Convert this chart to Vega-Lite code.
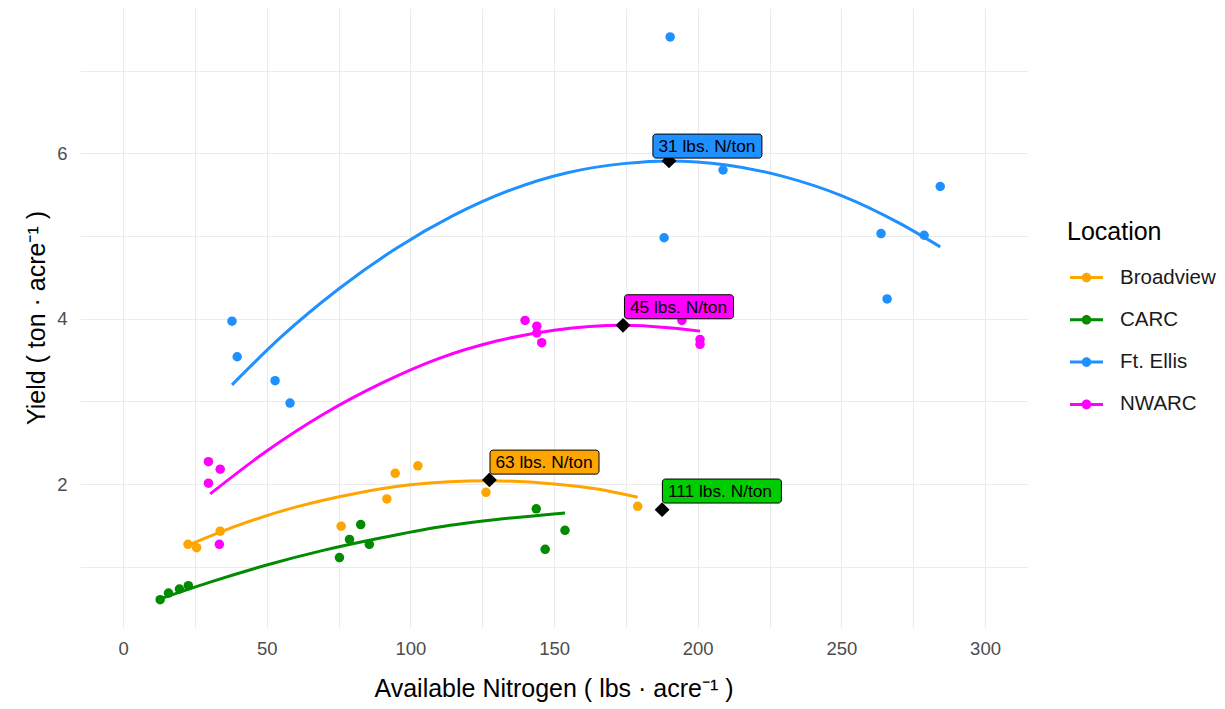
{
  "$schema": "https://vega.github.io/schema/vega-lite/v6.json",
  "width": 947,
  "height": 619,
  "autosize": {"type": "none"},
  "padding": {"left": 80, "top": 8, "right": 198, "bottom": 82},
  "background": "white",
  "config": {
    "font": "Liberation Sans",
    "view": {"stroke": null},
    "axis": {
      "domain": false,
      "ticks": false,
      "tickSize": 0,
      "grid": true,
      "gridColor": "#EBEBEB",
      "gridWidth": 1.1,
      "labelFont": "Liberation Sans",
      "labelFontSize": 18.5,
      "labelColor": "#4D4D4D",
      "titleFont": "Liberation Sans",
      "titleFontSize": 25,
      "titleFontWeight": "normal",
      "titleColor": "#000000"
    },
    "legend": {
      "titleFont": "Liberation Sans",
      "titleFontSize": 25,
      "titleFontWeight": "normal",
      "titleColor": "#000000",
      "labelFont": "Liberation Sans",
      "labelFontSize": 20.5,
      "labelColor": "#1A1A1A"
    }
  },
  "datasets": {
    "obs": [
      {"Location": "Ft. Ellis", "N": 37.9, "Yield": 3.97},
      {"Location": "Ft. Ellis", "N": 39.7, "Yield": 3.54},
      {"Location": "Ft. Ellis", "N": 52.9, "Yield": 3.25},
      {"Location": "Ft. Ellis", "N": 58.1, "Yield": 2.98},
      {"Location": "Ft. Ellis", "N": 188.3, "Yield": 4.98},
      {"Location": "Ft. Ellis", "N": 190.4, "Yield": 7.41},
      {"Location": "Ft. Ellis", "N": 208.8, "Yield": 5.8},
      {"Location": "Ft. Ellis", "N": 263.8, "Yield": 5.03},
      {"Location": "Ft. Ellis", "N": 265.9, "Yield": 4.24},
      {"Location": "Ft. Ellis", "N": 278.8, "Yield": 5.01},
      {"Location": "Ft. Ellis", "N": 284.4, "Yield": 5.6},
      {"Location": "CARC", "N": 12.9, "Yield": 0.6},
      {"Location": "CARC", "N": 15.8, "Yield": 0.68},
      {"Location": "CARC", "N": 19.6, "Yield": 0.73},
      {"Location": "CARC", "N": 22.7, "Yield": 0.77},
      {"Location": "CARC", "N": 75.3, "Yield": 1.11},
      {"Location": "CARC", "N": 78.8, "Yield": 1.33},
      {"Location": "CARC", "N": 82.7, "Yield": 1.51},
      {"Location": "CARC", "N": 85.7, "Yield": 1.27},
      {"Location": "CARC", "N": 143.8, "Yield": 1.7},
      {"Location": "CARC", "N": 146.9, "Yield": 1.21},
      {"Location": "CARC", "N": 153.8, "Yield": 1.44},
      {"Location": "Broadview", "N": 22.6, "Yield": 1.27},
      {"Location": "Broadview", "N": 25.6, "Yield": 1.23},
      {"Location": "Broadview", "N": 33.8, "Yield": 1.43},
      {"Location": "Broadview", "N": 75.9, "Yield": 1.49},
      {"Location": "Broadview", "N": 91.8, "Yield": 1.82},
      {"Location": "Broadview", "N": 94.7, "Yield": 2.13},
      {"Location": "Broadview", "N": 102.6, "Yield": 2.22},
      {"Location": "Broadview", "N": 126.3, "Yield": 1.9},
      {"Location": "Broadview", "N": 179.1, "Yield": 1.73},
      {"Location": "NWARC", "N": 29.7, "Yield": 2.27},
      {"Location": "NWARC", "N": 33.8, "Yield": 2.18},
      {"Location": "NWARC", "N": 29.7, "Yield": 2.01},
      {"Location": "NWARC", "N": 33.5, "Yield": 1.27},
      {"Location": "NWARC", "N": 139.9, "Yield": 3.98},
      {"Location": "NWARC", "N": 144.0, "Yield": 3.91},
      {"Location": "NWARC", "N": 144.0, "Yield": 3.83},
      {"Location": "NWARC", "N": 145.7, "Yield": 3.71},
      {"Location": "NWARC", "N": 194.5, "Yield": 3.98},
      {"Location": "NWARC", "N": 200.8, "Yield": 3.75},
      {"Location": "NWARC", "N": 200.8, "Yield": 3.69}
    ],
    "fit": [
      {"Location": "Ft. Ellis", "N": 37.9, "Yield": 3.2},
      {"Location": "Ft. Ellis", "N": 55, "Yield": 3.78},
      {"Location": "Ft. Ellis", "N": 75, "Yield": 4.36},
      {"Location": "Ft. Ellis", "N": 95, "Yield": 4.85},
      {"Location": "Ft. Ellis", "N": 115, "Yield": 5.25},
      {"Location": "Ft. Ellis", "N": 135, "Yield": 5.56},
      {"Location": "Ft. Ellis", "N": 155, "Yield": 5.77},
      {"Location": "Ft. Ellis", "N": 175, "Yield": 5.88},
      {"Location": "Ft. Ellis", "N": 190, "Yield": 5.91},
      {"Location": "Ft. Ellis", "N": 210, "Yield": 5.86},
      {"Location": "Ft. Ellis", "N": 230, "Yield": 5.72},
      {"Location": "Ft. Ellis", "N": 250, "Yield": 5.49},
      {"Location": "Ft. Ellis", "N": 270, "Yield": 5.16},
      {"Location": "Ft. Ellis", "N": 284.4, "Yield": 4.87},
      {"Location": "CARC", "N": 12.9, "Yield": 0.61},
      {"Location": "CARC", "N": 30, "Yield": 0.81},
      {"Location": "CARC", "N": 50, "Yield": 1.02},
      {"Location": "CARC", "N": 70, "Yield": 1.2},
      {"Location": "CARC", "N": 90, "Yield": 1.35},
      {"Location": "CARC", "N": 110, "Yield": 1.48},
      {"Location": "CARC", "N": 130, "Yield": 1.57},
      {"Location": "CARC", "N": 153.8, "Yield": 1.65},
      {"Location": "Broadview", "N": 22.6, "Yield": 1.26},
      {"Location": "Broadview", "N": 40, "Yield": 1.5},
      {"Location": "Broadview", "N": 60, "Yield": 1.72},
      {"Location": "Broadview", "N": 80, "Yield": 1.88},
      {"Location": "Broadview", "N": 100, "Yield": 1.99},
      {"Location": "Broadview", "N": 127, "Yield": 2.04},
      {"Location": "Broadview", "N": 150, "Yield": 2.0},
      {"Location": "Broadview", "N": 165, "Yield": 1.94},
      {"Location": "Broadview", "N": 179.1, "Yield": 1.84},
      {"Location": "NWARC", "N": 30.3, "Yield": 1.88},
      {"Location": "NWARC", "N": 50, "Yield": 2.4},
      {"Location": "NWARC", "N": 70, "Yield": 2.85},
      {"Location": "NWARC", "N": 90, "Yield": 3.22},
      {"Location": "NWARC", "N": 110, "Yield": 3.52},
      {"Location": "NWARC", "N": 130, "Yield": 3.73},
      {"Location": "NWARC", "N": 150, "Yield": 3.86},
      {"Location": "NWARC", "N": 174, "Yield": 3.92},
      {"Location": "NWARC", "N": 190, "Yield": 3.89},
      {"Location": "NWARC", "N": 200.8, "Yield": 3.85}
    ],
    "optimum": [
      {"Location": "Ft. Ellis", "N": 190, "Yield": 5.91, "label": "31 lbs. N/ton", "label_N": 184.4, "label_Y": 5.944},
      {"Location": "NWARC", "N": 174, "Yield": 3.92, "label": "45 lbs. N/ton", "label_N": 174.5, "label_Y": 4.0},
      {"Location": "Broadview", "N": 127.5, "Yield": 2.05, "label": "63 lbs. N/ton", "label_N": 127.7, "label_Y": 2.12},
      {"Location": "CARC", "N": 187.6, "Yield": 1.69, "label": "111 lbs. N/ton", "label_N": 187.7, "label_Y": 1.77}
    ]
  },
  "encoding": {
    "x": {
      "type": "quantitative",
      "scale": {"domain": [-15, 314.6], "nice": false, "zero": false},
      "axis": {
        "title": "Available Nitrogen ( lbs · acre⁻¹ )",
        "values": [0, 25, 50, 75, 100, 125, 150, 175, 200, 225, 250, 275, 300],
        "labelExpr": "datum.value % 50 === 0 ? datum.label : ''",
        "labelPadding": 12,
        "titlePadding": 19
      }
    },
    "y": {
      "type": "quantitative",
      "scale": {"domain": [0.27, 7.76], "nice": false, "zero": false},
      "axis": {
        "title": "Yield ( ton · acre⁻¹ )",
        "values": [1, 2, 3, 4, 5, 6, 7],
        "labelExpr": "datum.value % 2 === 0 ? datum.label : ''",
        "labelPadding": 13,
        "titlePadding": 7
      }
    }
  },
  "layer": [
    {
      "data": {"name": "fit"},
      "mark": {"type": "line", "strokeWidth": 3, "interpolate": "monotone"},
      "encoding": {
        "x": {"field": "N", "type": "quantitative"},
        "y": {"field": "Yield", "type": "quantitative"},
        "color": {
          "field": "Location",
          "type": "nominal",
          "scale": {
            "domain": ["Broadview", "CARC", "Ft. Ellis", "NWARC"],
            "range": ["#FFA500", "#008B00", "#1E90FF", "#FF00FF"]
          },
          "legend": {
            "title": "Location",
            "orient": "none",
            "legendX": 987,
            "legendY": 212,
            "padding": 0,
            "symbolType": "M-1,-0.09H1V0.09H-1Z M-0.29,0 A0.29,0.29 0 1,1 0.29,0 A0.29,0.29 0 1,1 -0.29,0 Z",
            "symbolSize": 1089,
            "symbolStrokeWidth": 0,
            "symbolOffset": 3,
            "labelOffset": 17,
            "rowPadding": 15.3,
            "titlePadding": 16
          }
        },
        "order": {"field": "N", "type": "quantitative"}
      }
    },
    {
      "data": {"name": "obs"},
      "mark": {"type": "circle", "size": 90, "opacity": 1},
      "encoding": {
        "x": {"field": "N", "type": "quantitative"},
        "y": {"field": "Yield", "type": "quantitative"},
        "color": {"field": "Location", "type": "nominal"}
      }
    },
    {
      "data": {"name": "optimum"},
      "mark": {"type": "point", "shape": "diamond", "filled": true, "color": "#000000", "size": 220, "opacity": 1},
      "encoding": {
        "x": {"field": "N", "type": "quantitative"},
        "y": {"field": "Yield", "type": "quantitative"}
      }
    },
    {
      "data": {"name": "optimum"},
      "transform": [{"filter": "length(datum.label) < 14"}],
      "mark": {"type": "rect", "stroke": "#000000", "strokeWidth": 1, "cornerRadius": 3, "x2Offset": 109, "y2Offset": -24},
      "encoding": {
        "x": {"field": "label_N", "type": "quantitative"},
        "x2": {"field": "label_N"},
        "y": {"field": "label_Y", "type": "quantitative"},
        "y2": {"field": "label_Y"},
        "fill": {
          "field": "Location",
          "type": "nominal",
          "scale": {
            "domain": ["Broadview", "CARC", "Ft. Ellis", "NWARC"],
            "range": ["#FFA500", "#00CD00", "#1E90FF", "#FF00FF"]
          },
          "legend": null
        }
      }
    },
    {
      "data": {"name": "optimum"},
      "transform": [{"filter": "length(datum.label) >= 14"}],
      "mark": {"type": "rect", "stroke": "#000000", "strokeWidth": 1, "cornerRadius": 3, "x2Offset": 119, "y2Offset": -24},
      "encoding": {
        "x": {"field": "label_N", "type": "quantitative"},
        "x2": {"field": "label_N"},
        "y": {"field": "label_Y", "type": "quantitative"},
        "y2": {"field": "label_Y"},
        "fill": {"field": "Location", "type": "nominal", "legend": null}
      }
    },
    {
      "data": {"name": "optimum"},
      "mark": {"type": "text", "align": "left", "baseline": "middle", "dx": 5.5, "dy": -11, "fontSize": 17.3, "font": "Liberation Sans", "color": "#000000"},
      "encoding": {
        "x": {"field": "label_N", "type": "quantitative"},
        "y": {"field": "label_Y", "type": "quantitative"},
        "text": {"field": "label"}
      }
    }
  ]
}
